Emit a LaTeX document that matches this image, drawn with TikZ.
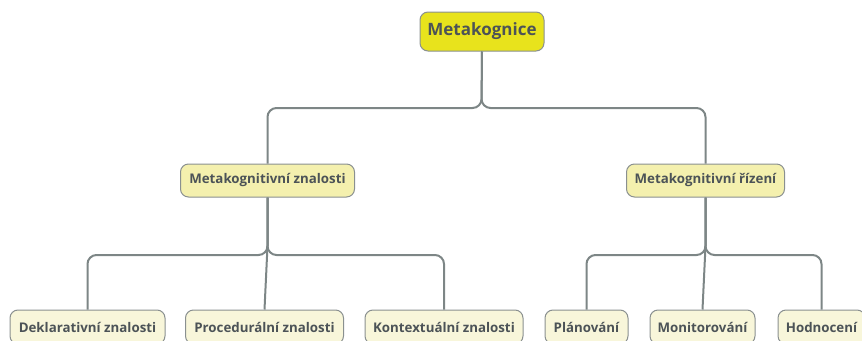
\documentclass[tikz,border=0pt]{standalone}
\usepackage{fontspec}
\setmainfont{Open Sans}
\definecolor{rootfill}{HTML}{E8E31C}
\definecolor{midfill}{HTML}{F4F0AE}
\definecolor{leaffill}{HTML}{F8F6DA}
\definecolor{boxline}{HTML}{8A9090}
\definecolor{txt}{HTML}{4C5357}
\definecolor{conn}{HTML}{7D8686}
\tikzset{
  box/.style={draw=boxline, line width=1pt, rounded corners=8pt, align=center,
    text=txt, font=\fontsize{13.3}{15}\selectfont\bfseries, inner sep=0pt},
  rootbox/.style={box, fill=rootfill, font=\fontsize{17}{19}\selectfont\bfseries,
    minimum height=39pt},
  midbox/.style={box, fill=midfill, minimum height=33pt},
  leafbox/.style={box, fill=leaffill, minimum height=34pt},
  link/.style={draw=conn, line width=2pt, rounded corners=9pt}
}
\begin{document}
\begin{tikzpicture}[x=1pt,y=-1pt]
\useasboundingbox (0,0) rectangle (862,340);
\node[rootbox, minimum width=124pt] (root) at (482,31.5) {Metakognice};
\node[midbox, minimum width=174pt] (mz) at (267.5,180.5) {Metakognitivní znalosti};
\node[midbox, minimum width=158pt] (mr) at (705.5,180.5) {Metakognitivní řízení};
\node[leafbox, minimum width=155pt] (dz) at (87.5,327) {Deklarativní znalosti};
\node[leafbox, minimum width=158pt] (pz) at (264.5,327) {Procedurální znalosti};
\node[leafbox, minimum width=158pt] (kz) at (444,327) {Kontextuální znalosti};
\node[leafbox, minimum width=83pt] (pl) at (586.5,327) {Plánování};
\node[leafbox, minimum width=105pt] (mo) at (702.5,327) {Monitorování};
\node[leafbox, minimum width=87pt] (ho) at (821.5,327) {Hodnocení};
\coordinate (j0) at (481.5,108);
\coordinate (j1) at (267.5,255);
\coordinate (j2) at (705.5,255);
\coordinate (m1) at (267.5,246);
\coordinate (m2) at (705.5,246);
\draw[link] (root.south) -- (j0) -- (j0 -| mz.north) -- (mz.north);
\draw[link] (root.south) -- (j0) -- (j0 -| mr.north) -- (mr.north);
\draw[link] (mz.south) -- (j1) -- (j1 -| dz.north) -- (dz.north);
\draw[link] (mz.south) -- (j1) -- (j1 -| kz.north) -- (kz.north);
\draw[link, rounded corners=0pt] (mz.south) -- (m1) -- (pz.north);
\draw[link] (mr.south) -- (j2) -- (j2 -| pl.north) -- (pl.north);
\draw[link] (mr.south) -- (j2) -- (j2 -| ho.north) -- (ho.north);
\draw[link, rounded corners=0pt] (mr.south) -- (m2) -- (mo.north);
\end{tikzpicture}
\end{document}
